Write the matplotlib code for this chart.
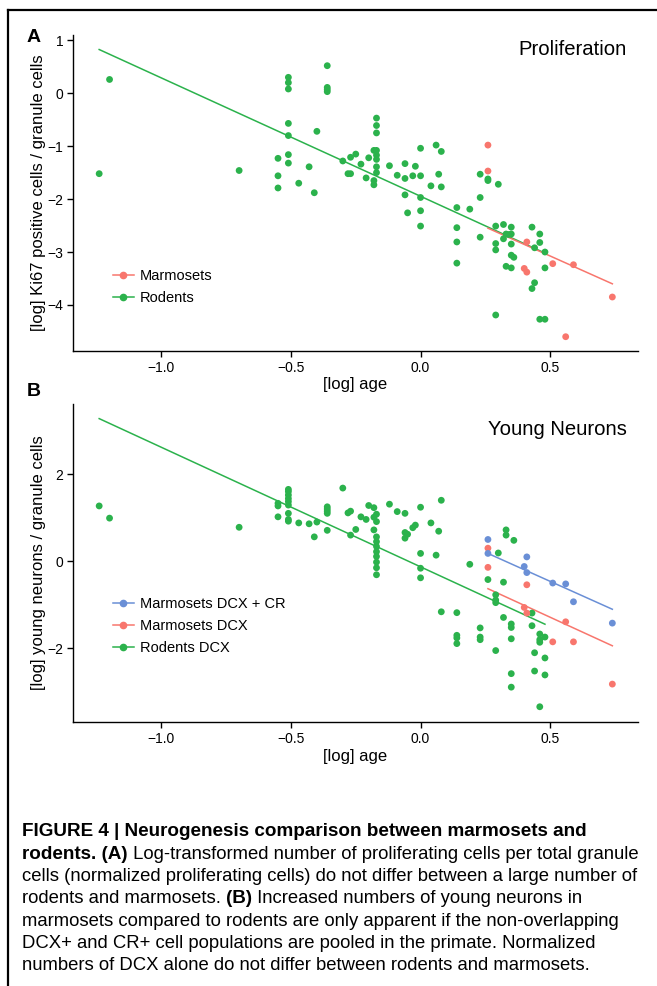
import matplotlib
matplotlib.use('Agg')
import matplotlib.pyplot as plt
from matplotlib.lines import Line2D

# ---- data ----
# Panel A: proliferation (Ki67)
rod_a_x = [-1.24, -1.20, -0.70,
           -0.51, -0.51, -0.51, -0.51, -0.51, -0.51, -0.51,
           -0.55, -0.55, -0.55,
           -0.47, -0.43, -0.41, -0.40,
           -0.36, -0.36, -0.36, -0.36,
           -0.30, -0.28, -0.27, -0.27, -0.25,
           -0.23, -0.21, -0.20, -0.18,
           -0.17, -0.17, -0.17, -0.17, -0.17, -0.17, -0.17, -0.17,
           -0.18, -0.18,
           -0.12, -0.09, -0.06, -0.06, -0.06, -0.05,
           -0.03, -0.02, 0.00, 0.00, 0.00, 0.00, 0.00,
           0.06, 0.08, 0.07, 0.04, 0.08,
           0.14, 0.14, 0.14, 0.14, 0.19,
           0.23, 0.23, 0.23,
           0.26, 0.26, 0.30,
           0.29, 0.32, 0.35, 0.33, 0.34, 0.32, 0.35,
           0.29, 0.29, 0.35, 0.35, 0.36, 0.33, 0.35,
           0.43, 0.46, 0.46, 0.44, 0.48, 0.48, 0.44, 0.43,
           0.29, 0.46, 0.48]
rod_a_y = [-1.52, 0.26, -1.46,
           0.30, 0.20, 0.08, -0.57, -0.80, -1.16, -1.32,
           -1.23, -1.56, -1.79,
           -1.70, -1.39, -1.88, -0.72,
           0.52, 0.11, 0.07, 0.03,
           -1.28, -1.52, -1.52, -1.21, -1.15,
           -1.34, -1.60, -1.22, -1.08,
           -0.47, -0.61, -0.75, -1.08, -1.17, -1.25, -1.39, -1.50,
           -1.65, -1.73,
           -1.37, -1.55, -1.33, -1.61, -1.92, -2.26,
           -1.56, -1.38, -1.04, -1.56, -1.97, -2.22, -2.51,
           -0.98, -1.10, -1.53, -1.75, -1.77,
           -2.16, -2.54, -2.81, -3.21, -2.19,
           -1.53, -1.97, -2.72,
           -1.62, -1.65, -1.72,
           -2.51, -2.48, -2.53, -2.66, -2.67, -2.75, -2.66,
           -2.84, -2.96, -2.85, -3.06, -3.10, -3.27, -3.30,
           -2.53, -2.66, -2.82, -2.92, -3.00, -3.30, -3.58, -3.69,
           -4.19, -4.27, -4.27]
mar_x = [0.26, 0.26, 0.40, 0.41, 0.41, 0.51, 0.56, 0.59, 0.74]
mar_a_y = [-0.98, -1.47, -3.31, -2.81, -3.38, -3.22, -4.60, -3.24, -3.85]

# Panel B: young neurons (DCX / DCX + CR)
rod_b_x = [-1.24, -1.20, -0.70,
           -0.51, -0.51, -0.51, -0.51, -0.51, -0.51, -0.51, -0.51, -0.51,
           -0.55, -0.55, -0.55,
           -0.47, -0.43, -0.40, -0.41,
           -0.36, -0.36, -0.36, -0.36, -0.36,
           -0.30, -0.28, -0.27, -0.27, -0.25,
           -0.23, -0.21, -0.20, -0.18, -0.17, -0.18, -0.17, -0.18,
           -0.17, -0.17, -0.17, -0.17, -0.17, -0.17, -0.17, -0.17,
           -0.12, -0.09, -0.06, -0.06, -0.05, -0.06, -0.03, -0.02,
           0.00, 0.00, 0.00, 0.00,
           0.04, 0.07, 0.06, 0.08, 0.08,
           0.14, 0.14, 0.14, 0.14, 0.19,
           0.23, 0.23, 0.23,
           0.26, 0.29, 0.29, 0.29, 0.29,
           0.30, 0.32, 0.32, 0.33, 0.33, 0.36,
           0.35, 0.35, 0.35, 0.35, 0.35,
           0.43, 0.43, 0.46, 0.46, 0.46, 0.48, 0.44, 0.48, 0.44, 0.48, 0.46]
rod_b_y = [1.27, 0.99, 0.78,
           1.65, 1.60, 1.52, 1.44, 1.37, 1.29, 1.10, 0.96, 0.92,
           1.33, 1.27, 1.02,
           0.88, 0.86, 0.90, 0.56,
           1.25, 1.20, 1.15, 1.10, 0.71,
           1.68, 1.11, 1.15, 0.60, 0.73,
           1.02, 0.96, 1.28, 1.23, 1.08, 1.01, 0.91, 0.72,
           0.56, 0.45, 0.34, 0.22, 0.11, -0.02, -0.15, -0.31,
           1.31, 1.14, 1.10, 0.66, 0.62, 0.53, 0.77, 0.83,
           1.24, 0.18, -0.16, -0.38,
           0.88, 0.69, 0.14, 1.40, -1.16,
           -1.18, -1.70, -1.76, -1.89, -0.07,
           -1.53, -1.74, -1.80,
           -0.42, -0.77, -0.89, -0.95, -2.05,
           0.19, -0.48, -1.29, 0.72, 0.60, 0.48,
           -1.44, -1.52, -1.78, -2.58, -2.89,
           -1.19, -1.48, -1.67, -1.80, -1.86, -1.74, -2.10, -2.22, -2.52, -2.61, -3.34]
mar_dcx_y = [0.30, -0.14, -1.06, -0.54, -1.19, -1.85, -1.39, -1.85, -2.82]
mar_dcxcr_y = [0.50, 0.18, -0.12, 0.10, -0.26, -0.50, -0.52, -0.93, -1.42]

# regression lines (slope, intercept)
fit_rod_a = [-2.236, -1.947]
fit_mar_a = [-2.19, -1.98]
fit_rod_b = [-2.744, -0.128]
fit_mar_dcx = [-2.73, 0.08]
fit_mar_dcxcr = [-2.67, 0.874]

x_ticks = [-1.0, -0.5, 0.0, 0.5]
y_ticks_a = [-4, -3, -2, -1, 0, 1]
y_ticks_b = [-2, 0, 2]

RED = '#F8766D'
GREEN = '#2BB24C'
BLUE = '#6A8FD6'
FONT = 'Liberation Sans'
CAP_FONT = ['Liberation Sans Narrow', 'Liberation Sans']

plt.rcParams['font.family'] = FONT

W, H = 657, 986
fig = plt.figure(figsize=(W / 100, H / 100), dpi=100)


def px_axes(left, top, right, bottom):
    return fig.add_axes([left / W, 1 - bottom / H, (right - left) / W, (bottom - top) / H])


def style(ax, yticks, ylim):
    for s in ['top', 'right']:
        ax.spines[s].set_visible(False)
    for s in ['left', 'bottom']:
        ax.spines[s].set_linewidth(1.0)
        ax.spines[s].set_color('black')
    ax.set_xlim(-1.341, 0.839)
    ax.set_ylim(*ylim)
    ax.set_xticks(x_ticks)
    ax.set_xticklabels([f'{v:.1f}'.replace('-', '\u2212') for v in x_ticks])
    ax.set_yticks(yticks)
    ax.tick_params(direction='out', length=4, width=1, labelsize=10, pad=3, colors='black')
    ax.set_xlabel('[log] age', fontsize=12, labelpad=2)


def fit_line(ax, xs, fit, color):
    x0, x1 = min(xs), max(xs)
    ax.plot([x0, x1], [fit[0] * x0 + fit[1], fit[0] * x1 + fit[1]], color=color, lw=1.1, zorder=2)


def series(ax, xs, ys, fit, color, label):
    ax.scatter(xs, ys, s=24, color=color, edgecolors='none', zorder=3)
    fit_line(ax, xs, fit, color)
    return Line2D([], [], color=color, lw=1.1, marker='o', markersize=4.5, label=label)


# ---- panel A ----
ax_a = px_axes(73, 35, 638, 351)
h_rod = series(ax_a, rod_a_x, rod_a_y, fit_rod_a, GREEN, 'Rodents')
h_mar = series(ax_a, mar_x, mar_a_y, fit_mar_a, RED, 'Marmosets')
style(ax_a, y_ticks_a, (-4.87, 1.10))
ax_a.set_ylabel('[log] Ki67 positive cells / granule cells', fontsize=12, labelpad=1)
ax_a.text(0.98, 0.955, 'Proliferation', transform=ax_a.transAxes, ha='right', va='center', fontsize=14.6)
ax_a.legend(handles=[h_mar, h_rod], loc='center left', bbox_to_anchor=(0.071, 0.201),
            frameon=False, fontsize=10.5, handlelength=1.4, handletextpad=0.45,
            labelspacing=0.55, borderpad=0, borderaxespad=0)

# ---- panel B ----
ax_b = px_axes(73, 404, 638, 722)
h_rodb = series(ax_b, rod_b_x, rod_b_y, fit_rod_b, GREEN, 'Rodents DCX')
h_dcx = series(ax_b, mar_x, mar_dcx_y, fit_mar_dcx, RED, 'Marmosets DCX')
h_dcxcr = series(ax_b, mar_x, mar_dcxcr_y, fit_mar_dcxcr, BLUE, 'Marmosets DCX + CR')
style(ax_b, y_ticks_b, (-3.69, 3.61))
ax_b.set_ylabel('[log] young neurons / granule cells', fontsize=12, labelpad=1)
ax_b.text(0.98, 0.92, 'Young Neurons', transform=ax_b.transAxes, ha='right', va='center', fontsize=14.6)
ax_b.legend(handles=[h_dcxcr, h_dcx, h_rodb], loc='center left', bbox_to_anchor=(0.071, 0.302),
            frameon=False, fontsize=10.5, handlelength=1.4, handletextpad=0.45,
            labelspacing=0.55, borderpad=0, borderaxespad=0)

# panel letters
fig.text(27 / W, 1 - 37 / H, 'A', fontsize=14, fontweight='bold', va='center', ha='left')
fig.text(27 / W, 1 - 392 / H, 'B', fontsize=14, fontweight='bold', va='center', ha='left')

# frame (left and top rules)
fig.add_artist(Line2D([8 / W, 8 / W], [0, 1 - 10 / H], color='black', lw=1.6, transform=fig.transFigure))
fig.add_artist(Line2D([8 / W, 1], [1 - 10 / H, 1 - 10 / H], color='black', lw=1.6, transform=fig.transFigure))

# ---- caption ----
caption = [
    [('FIGURE 4 | Neurogenesis comparison between marmosets and', True)],
    [('rodents. (A)', True), (' Log-transformed number of proliferating cells per total granule', False)],
    [('cells (normalized proliferating cells) do not differ between a large number of', False)],
    [('rodents and marmosets. ', False), ('(B)', True), (' Increased numbers of young neurons in', False)],
    [('marmosets compared to rodents are only apparent if the non-overlapping', False)],
    [('DCX+ and CR+ cell populations are pooled in the primate. Normalized', False)],
    [('numbers of DCX alone do not differ between rodents and marmosets.', False)],
]

renderer = fig.canvas.get_renderer()
for i, line in enumerate(caption):
    y = 1 - (832 + 22.3 * i) / H
    x = 22 / W
    for text, bold in line:
        t = fig.text(x, y, text, fontsize=13.55 if bold else 13.3, family=CAP_FONT,
                     fontweight='bold' if bold else 'normal', va='center', ha='left')
        x = t.get_window_extent(renderer).x1 / W

fig.savefig('out.png', dpi=100)
